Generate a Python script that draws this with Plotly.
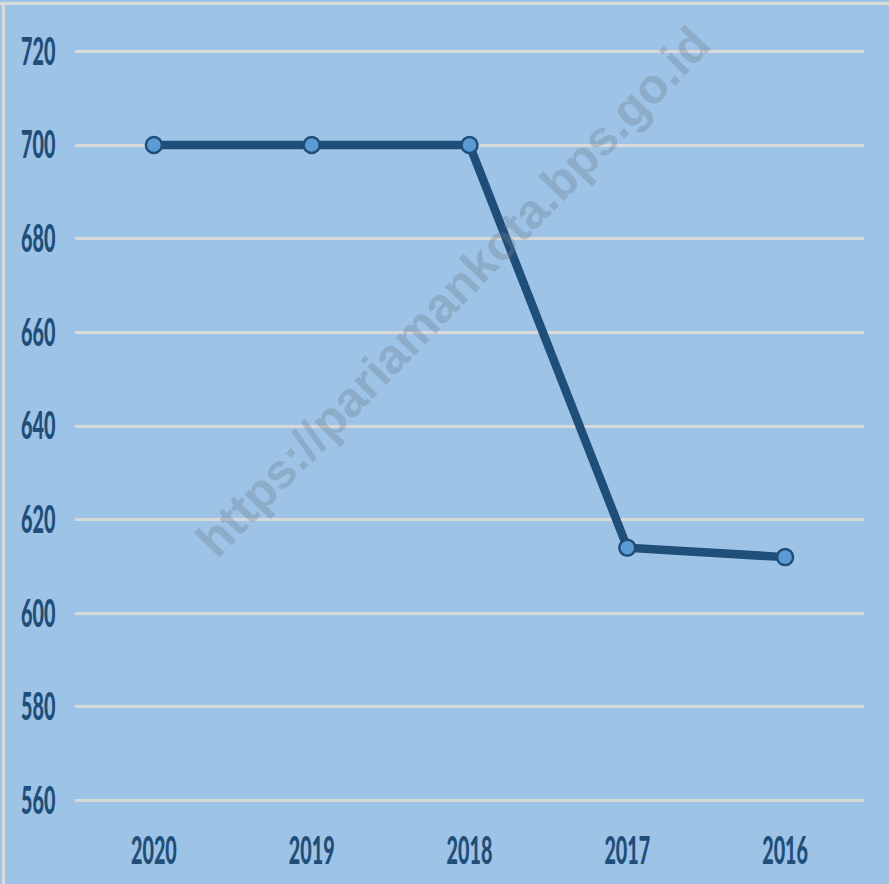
import plotly.graph_objects as go

years = ["2020", "2019", "2018", "2017", "2016"]
values = [700, 700, 700, 614, 612]
y_ticks = [560, 580, 600, 620, 640, 660, 680, 700, 720]

W, H = 889, 884
L, R, T, B = 75, 25, 42, 74
PW, PH = W - L - R, H - T - B

dark = "#1F4E79"
bg = "#9DC3E6"
font_family = "Lato, Liberation Sans, Arial, sans-serif"
tick_font = dict(family=font_family, size=38, color=dark, weight=900)

fig = go.Figure()
fig.add_trace(go.Scatter(
    x=years, y=values, mode="lines+markers",
    line=dict(color=dark, width=8.5),
    marker=dict(size=16, color="#5B9BD5", line=dict(color=dark, width=2.5)),
    showlegend=False, hoverinfo="skip",
))

fig.update_layout(
    width=W, height=H,
    margin=dict(l=L, r=R, t=T, b=B, pad=0, autoexpand=False),
    paper_bgcolor=bg, plot_bgcolor=bg,
    font=dict(family=font_family, color=dark, size=28),
    xaxis=dict(
        type="category", range=[-0.5, 4.5], showgrid=False, zeroline=False,
        showline=False, ticks="outside", ticklen=7, tickcolor="rgba(0,0,0,0)",
        tickfont=tick_font, automargin=False,
    ),
    yaxis=dict(
        range=[558, 722], tickvals=y_ticks, showgrid=True, gridcolor="#D9D9D9",
        gridwidth=3, zeroline=False, showline=False,
        ticks="outside", ticklen=11, tickcolor="rgba(0,0,0,0)",
        tickfont=tick_font, automargin=False,
    ),
    annotations=[dict(
        text="https://pariamankota.bps.go.id", xref="paper", yref="paper",
        x=0.478, y=0.675, xanchor="center", yanchor="middle",
        showarrow=False, textangle=-46,
        font=dict(family="Liberation Sans, Arial, sans-serif", size=49,
                  color="rgba(110,125,140,0.33)", weight="bold"),
    )],
    shapes=[
        dict(type="line", xref="paper", yref="paper",
             x0=-L / PW, x1=1 + R / PW,
             y0=1 + (T - 3.5) / PH, y1=1 + (T - 3.5) / PH,
             line=dict(color="#D9D9D9", width=3), layer="below"),
        dict(type="line", xref="paper", yref="paper",
             x0=-(L - 3.5) / PW, x1=-(L - 3.5) / PW,
             y0=-B / PH, y1=1 + (T - 2) / PH,
             line=dict(color="#D9D9D9", width=3), layer="below"),
    ],
)

css = (
    "body{margin:0;background:#ffffff;}"
    ".xtick{transform-box:fill-box;transform-origin:center;transform:scaleX(0.52);}"
    ".ytick{transform-box:fill-box;transform-origin:right center;transform:scaleX(0.52);}"
)
post = (
    "var s=document.createElement('style');"
    "s.textContent='" + css + "';"
    "document.head.appendChild(s);"
)

fig.write_html("out.html", post_script=post, config={"displayModeBar": False})
